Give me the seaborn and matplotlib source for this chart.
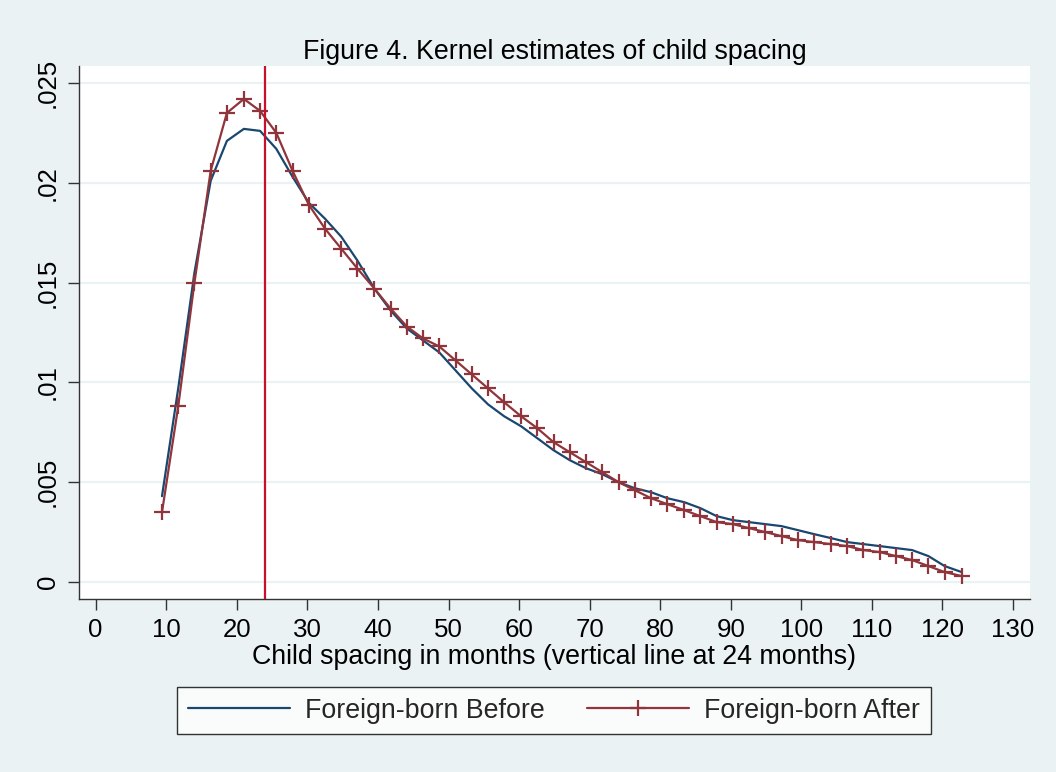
import matplotlib
matplotlib.use("Agg")
import matplotlib.pyplot as plt
import seaborn as sns
import pandas as pd

months = [9.4, 11.7, 14.0, 16.3, 18.6, 21.0, 23.3, 25.6, 27.9, 30.2,
          32.5, 34.8, 37.1, 39.5, 41.8, 44.1, 46.4, 48.7, 51.0, 53.3,
          55.6, 57.9, 60.3, 62.6, 64.9, 67.2, 69.5, 71.8, 74.1, 76.4,
          78.7, 81.0, 83.4, 85.7, 88.0, 90.3, 92.6, 94.9, 97.2, 99.5,
          101.8, 104.2, 106.5, 108.8, 111.1, 113.4, 115.7, 118.0, 120.3, 122.7]

before = [.0043, .0097, .0155, .0201, .0221, .0227, .0226, .0217, .0203, .0190,
          .0182, .0173, .0161, .0147, .0136, .0127, .0121, .0115, .0106, .0097,
          .0089, .0083, .0078, .0072, .0066, .0061, .0057, .0054, .0050, .0047,
          .0045, .0042, .0040, .0037, .0033, .0031, .0030, .0029, .0028, .0026,
          .0024, .0022, .0020, .0019, .0018, .0017, .0016, .0013, .0008, .0005]

after = [.0035, .0088, .0150, .0206, .0235, .0242, .0236, .0225, .0206, .0189,
         .0177, .0167, .0157, .0147, .0137, .0128, .0122, .0118, .0111, .0104,
         .0097, .0090, .0083, .0077, .0070, .0065, .0060, .0055, .0050, .0046,
         .0042, .0039, .0036, .0033, .0030, .0029, .0027, .0025, .0023, .0021,
         .0020, .0019, .0018, .0016, .0015, .0013, .0011, .0008, .0005, .0003]

series_labels = ["Foreign-born Before", "Foreign-born After"]
x_ticks = list(range(0, 131, 10))
y_ticks = [0, .005, .01, .015, .02, .025]
y_tick_labels = ["0", ".005", ".01", ".015", ".02", ".025"]
vline_at = 24

title = "Figure 4. Kernel estimates of child spacing"
xlabel = "Child spacing in months (vertical line at 24 months)"

sns.set_theme(style="white")
plt.rcParams["font.family"] = ["Liberation Sans", "DejaVu Sans"]

BG = "#EAF2F3"
NAVY = "#1A476F"
MAROON = "#90353B"
FS = 19.3
TFS = 18.6

df_b = pd.DataFrame({"months": months, "density": before})
df_a = pd.DataFrame({"months": months, "density": after})

fig = plt.figure(figsize=(10.56, 7.72), dpi=100, facecolor=BG)
ax = fig.add_axes([79/1056, 1-599/772, (1030-79)/1056, (599-66)/772])
ax.set_facecolor("white")

ax.grid(False)
for yt in y_ticks:
    ax.axhline(yt, color=BG, lw=1.6, zorder=0)

sns.lineplot(data=df_b, x="months", y="density", ax=ax, color=NAVY, lw=1.6,
             label=series_labels[0], zorder=3)
sns.lineplot(data=df_a, x="months", y="density", ax=ax, color=MAROON, lw=1.6,
             marker="+", markersize=11, markeredgewidth=1.6, markeredgecolor=MAROON,
             label=series_labels[1], zorder=4)
ax.axvline(vline_at, color="#C8102E", lw=1.6, zorder=5)

ax.set_xlim(-2.36, 132.4)
ax.set_ylim(-0.00085, 0.02585)
ax.set_xticks(x_ticks)
ax.set_xticklabels([str(t) for t in x_ticks], fontsize=TFS)
ax.set_yticks(y_ticks)
ax.set_yticklabels(y_tick_labels, fontsize=TFS, rotation=90, va="center")

for s in ["top", "right"]:
    ax.spines[s].set_visible(False)
for s in ["left", "bottom"]:
    ax.spines[s].set_color("#333333")
    ax.spines[s].set_linewidth(1.0)
ax.tick_params(axis="both", which="major", direction="out", length=8, width=1.0,
               color="#333333", labelcolor="black", pad=6, left=True, bottom=True)

ax.set_xlabel(xlabel, fontsize=FS, labelpad=1, color="black")
ax.set_ylabel("")
ax.set_title(title, fontsize=FS, pad=5, color="black")

handles, labels = ax.get_legend_handles_labels()
ax.get_legend().remove()
leg = fig.legend(handles, labels, loc="center", bbox_to_anchor=(554/1056, 1-710.5/772),
                 ncol=2, fontsize=FS, frameon=True, fancybox=False, handlelength=3.8,
                 handletextpad=0.55, columnspacing=1.6, borderpad=0.4)
leg.get_frame().set_edgecolor("black")
leg.get_frame().set_linewidth(1.0)
leg.get_frame().set_facecolor("white")

fig.savefig("out.png", dpi=100, facecolor=BG)
